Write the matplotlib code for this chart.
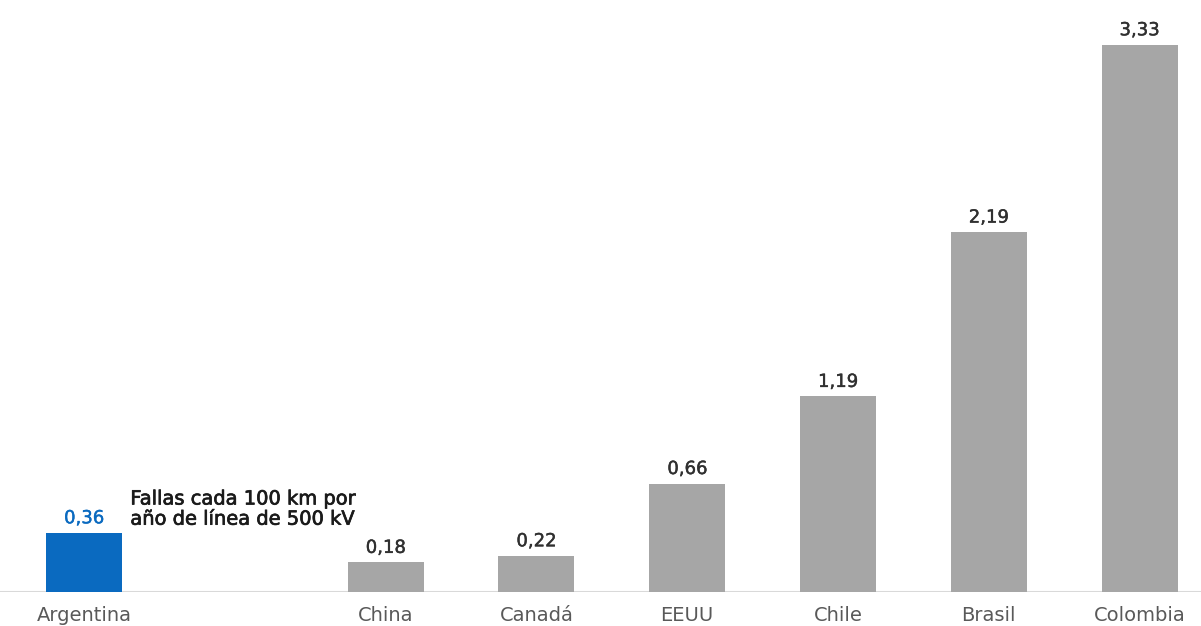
import matplotlib.pyplot as plt
import matplotlib.patheffects as pe

# Fallas cada 100 km por año de línea de 500 kV
countries = ["Argentina", "China", "Canadá", "EEUU", "Chile", "Brasil", "Colombia"]
values = [0.36, 0.18, 0.22, 0.66, 1.19, 2.19, 3.33]
slots = [0, 2, 3, 4, 5, 6, 7]
value_labels = ["0,36", "0,18", "0,22", "0,66", "1,19", "2,19", "3,33"]
note = "Fallas cada 100 km por\naño de línea de 500 kV"

plt.rcParams["font.family"] = ["DejaVu Sans"]

blue = "#0A6AC0"
gray = "#A6A6A6"
colors = [blue] + [gray] * (len(countries) - 1)


def medium(color, w):
    # thin outline in the text colour gives a medium weight look
    return [pe.withStroke(linewidth=w, foreground=color)]


fig = plt.figure(figsize=(12.01, 6.26), dpi=100)
ax = fig.add_axes([0, 34 / 626, 1, 1 - 34 / 626])

bars = ax.bar(slots, values, width=0.504, color=colors, zorder=2)

ax.set_xlim(-0.557, 7.407)
ax.set_ylim(0, 3.603)

for rect, lab, col in zip(bars, value_labels, colors):
    tcol = blue if col == blue else "#303030"
    ax.annotate(lab, (rect.get_x() + rect.get_width() / 2, rect.get_height()),
                xytext=(0, 4), textcoords="offset points",
                ha="center", va="bottom", fontsize=13, color=tcol,
                path_effects=medium(tcol, 0.3))

ax.annotate(note, (slots[0] + 0.504 / 2, values[0]), xytext=(6, 3),
            textcoords="offset points", ha="left", va="bottom",
            fontsize=14, color="#1A1A1A", linespacing=1.08,
            path_effects=medium("#1A1A1A", 0.5))

ax.axhline(0, color="#D9D9D9", lw=1.5, zorder=1)

ax.set_xticks(slots)
ax.set_xticklabels(countries, fontsize=14, color="#595959")
ax.tick_params(axis="x", length=0, pad=10)
ax.set_yticks([])
for s in ax.spines.values():
    s.set_visible(False)

fig.savefig("out.png", dpi=100)
